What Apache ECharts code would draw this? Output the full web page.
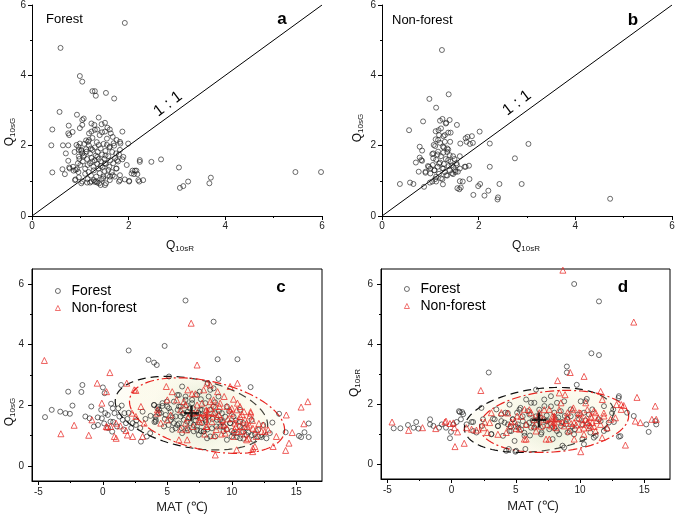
<!DOCTYPE html>
<html><head><meta charset="utf-8">
<script src="https://cdn.jsdelivr.net/npm/echarts@6/dist/echarts.min.js"></script>
<style>html,body{margin:0;padding:0;background:#fff}#c{width:675px;height:517px}</style>
</head><body><div id="c"></div>
<script>
// ---------- data ----------
// Panel a: Forest, [Q10sR, Q10sG]
const forestA = [[1.92,5.49],[0.59,4.78],[0.99,3.98],[1.04,3.82],[1.25,3.55],[1.30,3.55],[1.32,3.42],[1.53,3.50],[1.70,3.34],[0.57,2.96],[0.93,2.88],[0.42,2.46],[1.07,2.77],[1.38,2.80],[0.76,2.57],[0.40,2.01],[0.42,1.24],[0.64,2.01],[0.75,2.01],[0.70,1.78],[0.84,2.39],[0.77,2.30],[0.99,2.50],[1.04,2.59],[0.63,1.33],[0.68,1.19],[0.77,1.38],[0.85,1.40],[0.90,1.31],[0.90,1.04],[0.96,1.25],[1.04,0.98],[0.88,1.82],[0.99,2.06],[0.96,1.97],[1.02,1.88],[0.97,1.69],[1.06,1.69],[1.13,1.83],[1.18,2.16],[1.23,2.40],[1.29,2.59],[1.35,2.46],[1.44,2.61],[1.51,2.65],[1.56,2.51],[1.63,2.35],[1.87,2.40],[1.75,2.16],[1.83,2.06],[1.99,2.06],[1.87,1.61],[1.96,1.45],[2.01,0.98],[2.06,1.21],[2.13,1.29],[2.18,1.19],[2.22,0.98],[2.23,1.54],[2.23,1.59],[2.30,1.02],[2.47,1.54],[2.67,1.61],[3.04,1.38],[3.06,0.80],[3.13,0.85],[3.23,0.98],[3.67,0.93],[3.70,1.09],[5.45,1.25],[5.98,1.25],[1.80,0.98],[1.71,1.12],[1.51,0.88],[1.39,0.93],[1.33,0.98],[1.23,0.98],[1.14,0.95],[1.47,1.07],[1.61,1.12],
[1.04,2.73],[1.23,2.63],[1.51,2.40],[1.61,2.46],[1.67,2.25],[1.82,2.11],[0.75,2.35],[0.92,2.02],[0.97,1.88],[1.04,1.78],[1.16,2.11],[0.75,1.57],[0.78,1.35],[0.86,1.29],[0.93,1.33],[0.97,1.10],[0.89,1.02],[1.02,0.93],[1.20,0.95],[1.30,0.97],[1.42,0.88],[1.53,0.93],[1.61,1.02],[1.82,1.02],[1.92,1.04],[1.82,1.16],[1.67,1.16],[1.74,1.35],[1.58,1.31],[1.51,1.50],[1.76,1.59],[1.89,1.68],[1.74,1.78],[1.82,1.88],[1.61,1.97],[1.69,2.07],[2.08,1.29],[2.16,1.29],[2.11,1.19],[2.20,1.02],[2.01,1.00],
[1.05,1.55],[1.08,1.72],[1.10,1.35],[1.12,1.90],[1.14,1.62],[1.15,1.45],[1.17,1.25],[1.18,2.00],[1.20,1.78],[1.20,1.50],[1.22,1.15],[1.23,1.65],[1.25,1.88],[1.25,2.22],[1.27,1.40],[1.28,1.30],[1.30,1.58],[1.30,1.95],[1.32,1.72],[1.33,1.12],[1.34,2.10],[1.35,1.48],[1.36,1.82],[1.38,1.35],[1.38,1.62],[1.40,2.30],[1.40,1.22],[1.42,1.92],[1.43,1.55],[1.44,1.05],[1.45,1.75],[1.46,1.38],[1.48,2.05],[1.50,1.62],[1.50,1.28],[1.52,1.85],[1.53,1.48],[1.55,2.20],[1.56,1.15],[1.58,1.70],[1.60,1.40],[1.60,1.95],[1.62,1.58],[1.65,1.25],[1.66,1.82],[1.68,1.50],[1.70,2.00],[1.72,1.65],[1.75,1.35],[1.78,1.55],[1.80,1.75],[1.12,2.15],[1.15,1.05],[1.28,1.02],[1.35,0.95],[1.48,1.12],[1.00,1.45],[0.98,1.62],[1.02,1.85],[0.95,1.50],[1.08,2.05],[1.18,2.35],[1.30,2.45],[1.45,2.38],[1.55,2.02],[1.25,1.55],[1.35,1.68],[1.42,1.42],[1.52,1.72],[1.22,1.92],[1.38,2.02],[1.10,1.20]];

// Panel b: Non-forest, [Q10sR, Q10sG]
const nonForestB = [[1.24,4.72],[0.98,3.33],[1.38,3.46],[1.12,3.08],[0.56,2.44],[0.85,2.69],[1.20,2.71],[1.25,2.76],[1.40,2.73],[1.32,2.63],[1.55,2.59],[1.42,2.37],[1.37,2.37],[1.17,2.44],[1.22,2.49],[1.11,2.41],[1.27,2.27],[1.77,2.25],[1.73,2.21],[2.02,2.40],[1.88,2.08],[1.82,2.05],[1.62,2.06],[2.23,2.06],[3.03,2.05],[0.78,1.97],[0.83,1.86],[0.78,1.66],[0.83,1.57],[0.70,1.52],[0.76,1.26],[0.90,1.23],[0.97,1.40],[1.06,1.64],[1.04,1.76],[1.10,1.99],[1.16,2.16],[1.26,1.97],[1.30,2.11],[1.35,1.92],[1.40,1.73],[1.47,1.70],[1.61,1.70],[1.54,1.50],[1.61,1.35],[1.73,1.40],[1.80,1.43],[2.23,1.40],[2.75,1.64],[0.37,0.91],[0.58,0.95],[0.65,0.91],[0.87,0.83],[0.99,0.95],[1.12,0.98],[1.26,0.90],[1.47,1.19],[1.56,0.79],[1.61,0.99],[1.63,0.81],[1.81,1.05],[1.89,0.60],[1.99,0.85],[2.12,0.58],[2.20,0.72],[2.39,0.47],[2.43,0.91],[2.89,0.91],[4.72,0.49],
[1.33,2.65],[1.18,2.30],[1.30,2.30],[1.07,2.02],[1.20,2.08],[1.41,2.11],[1.11,2.18],[1.06,1.78],[1.16,1.83],[1.27,1.80],[1.37,1.89],[1.75,2.11],[1.86,2.27],[0.81,1.59],[0.95,1.42],[0.90,1.26],[1.00,1.21],[1.09,1.30],[1.18,1.49],[1.27,1.35],[1.37,1.59],[1.44,1.44],[1.51,1.30],[1.71,1.40],[1.12,1.12],[1.22,1.07],[1.33,1.16],[1.57,1.26],[1.04,0.98],[1.67,0.98],[1.60,0.76],[2.03,0.91],[2.40,0.53],
[1.05,1.45],[1.08,1.30],[1.12,1.60],[1.15,1.40],[1.18,1.20],[1.20,1.52],[1.22,1.70],[1.25,1.35],[1.28,1.48],[1.30,1.25],[1.32,1.62],[1.35,1.15],[1.38,1.42],[1.40,1.30],[1.42,1.55],[1.45,1.22],[1.48,1.38],[1.50,1.62],[1.10,1.05],[1.25,1.05],[1.35,1.82],[1.15,1.75],[1.28,1.95],[1.00,1.35],[1.52,1.25],[1.55,1.45]];

// Panel c: [MAT, Q10sG]
const forestC = [[-4.49,1.61],[-3.97,1.85],[-3.31,1.79],[-2.90,1.74],[-2.56,1.72],[-2.69,2.45],[-2.36,1.99],[-1.67,2.44],[-1.59,2.67],[-1.36,1.63],[-0.90,1.96],[-1.03,1.57],[-0.38,1.35],[-0.13,1.85],[0.00,2.59],[0.13,2.40],[-0.08,1.57],[0.18,1.74],[0.38,1.68],[0.64,2.05],[0.59,1.46],[0.72,1.13],[0.77,1.90],[0.90,1.74],[1.28,1.63],[1.41,2.67],[1.46,1.99],[1.54,1.52],[1.67,1.74],[1.79,1.41],[2.00,3.81],[2.31,1.41],[2.56,1.35],[2.95,0.80],[3.08,1.79],[3.41,0.97],[3.54,3.50],[3.67,1.08],[3.97,3.41],[4.18,3.33],[3.97,2.01],[4.10,1.63],[4.23,1.90],[4.36,1.74],[4.10,1.46],[4.62,1.98],[4.79,3.96],[4.95,2.12],[5.13,2.95],[4.87,1.68],[5.13,1.90],[5.26,1.52],[5.51,1.41],[5.64,1.24],[5.77,2.34],[5.90,1.96],[6.03,1.63],[6.15,2.62],[6.28,1.74],[6.41,5.46],[6.41,2.29],[6.54,1.46],[6.74,1.90],[6.92,2.18],[7.05,1.35],[7.31,1.63],[7.31,1.19],[7.51,2.45],[7.69,1.85],[7.82,1.13],[7.95,1.52],[8.13,2.73],[8.21,2.29],[8.33,0.97],[8.59,4.76],[8.59,2.56],[8.72,1.74],[8.90,3.52],[8.97,2.87],[9.10,1.52],[9.36,1.30],[9.62,0.86],[9.87,1.41],[10.13,1.08],[10.44,3.52],[10.64,1.46],[10.90,1.13],[11.46,2.60],[11.67,0.86],[12.05,0.97],[12.44,1.35],[12.69,0.91],[12.95,1.08],[13.15,1.43],[13.67,1.72],[14.18,1.11],[15.21,0.99],[15.38,0.95],[15.64,1.11],[15.97,1.40],[15.97,0.95],
[3.97,2.01],[4.36,1.85],[4.62,2.07],[5.00,1.96],[5.26,1.79],[5.51,2.12],[5.64,1.63],[5.90,2.34],[6.03,1.96],[6.28,1.52],[6.41,2.18],[6.59,1.79],[6.79,1.41],[6.92,2.07],[7.18,1.63],[7.31,2.34],[7.56,1.85],[7.69,1.41],[7.82,1.14],[7.95,2.07],[8.20,1.63],[8.33,2.51],[8.46,1.24],[8.59,1.96],[8.85,1.52],[8.97,2.29],[9.23,1.74],[9.36,1.14],[9.62,1.96],[9.87,1.41],[10.13,1.63],[10.38,1.08],[10.64,1.85],[10.90,1.41],[11.15,1.02],[11.54,1.52],[4.10,1.52],[4.74,1.30],[5.38,1.19],[5.77,1.35],[6.15,1.08],[6.54,1.24],[7.05,1.14],[7.44,1.02],[8.08,0.91],[8.72,0.97],[9.10,1.30],[10.00,0.97],[10.64,0.91],[11.54,1.02],[12.05,1.19],
[5.80,1.85],[6.20,1.72],[6.50,2.00],[6.70,1.60],[7.00,1.90],[7.20,1.50],[7.40,1.75],[7.60,2.20],[7.80,1.65],[8.00,1.45],[8.30,1.85],[8.50,1.55],[8.70,2.10],[9.00,1.80],[9.30,1.45],[9.50,1.62],[9.80,1.80],[10.30,1.50],[10.60,1.30],[11.00,1.25],[11.30,1.10],[4.50,1.75],[4.80,1.55],[5.10,1.35],[5.40,1.60],[5.90,1.40],[6.10,1.25],[6.60,1.18],[7.30,1.30],[7.60,1.15],[8.10,1.20],[8.80,1.30],[9.60,1.20],[10.00,1.15],[10.40,0.95],[10.90,0.90],[11.80,1.05],[12.30,0.95],[4.30,1.95],[4.00,1.45],[3.70,1.65],[3.30,1.55],[2.90,1.25],[2.60,1.50],[2.20,1.25],[1.90,1.55],[1.60,1.20],[1.10,1.30],[0.80,1.45],[0.40,1.25],[0.10,1.40],[-0.40,1.60],[-0.70,1.30],[1.20,1.90],[2.00,1.75]];

const nonForestC = [[-4.54,3.48],[-3.26,1.06],[-2.23,1.34],[-1.10,1.01],[-0.85,1.52],[-0.44,2.73],[-0.08,2.07],[0.28,2.45],[0.33,1.28],[0.54,3.08],[0.59,1.30],[1.03,0.91],[1.36,1.32],[1.79,1.17],[1.85,2.73],[2.26,1.74],[2.56,1.63],[2.56,2.49],[2.95,1.96],[3.08,0.97],[4.23,1.74],[4.49,1.41],[4.92,2.62],[5.00,1.52],[5.26,1.68],[6.03,1.21],[6.28,2.12],[6.41,1.41],[6.54,0.86],[6.85,4.71],[6.79,1.74],[6.92,2.38],[7.18,2.38],[7.31,3.33],[7.31,1.76],[7.51,1.46],[7.69,2.07],[7.95,1.68],[8.08,1.30],[8.33,2.67],[8.59,2.18],[8.72,1.96],[8.72,0.36],[8.85,1.63],[9.10,2.07],[9.23,1.35],[9.49,1.08],[9.62,1.96],[9.87,2.62],[10.00,1.74],[10.13,2.20],[10.26,1.41],[10.44,2.73],[10.51,1.13],[10.64,1.96],[10.77,1.30],[11.03,1.52],[11.15,0.86],[11.36,1.35],[11.46,1.74],[11.62,0.47],[11.79,0.64],[12.56,1.13],[12.82,1.19],[13.21,0.64],[13.46,0.97],[14.18,0.51],[14.23,1.68],[14.44,0.75],[14.69,1.10],[15.38,1.94],[15.59,1.39],[15.90,2.12],
[2.43,2.51],[5.00,2.18],[5.38,2.45],[5.72,2.18],[6.03,1.85],[6.41,2.01],[6.59,2.51],[7.05,1.74],[7.31,2.01],[7.44,1.52],[7.82,2.51],[8.03,1.85],[8.08,2.73],[8.33,2.12],[8.46,1.46],[8.59,1.74],[8.90,2.45],[9.05,1.96],[9.23,1.52],[9.41,2.29],[9.62,1.24],[9.87,1.85],[10.00,1.57],[10.13,0.97],[10.33,1.30],[10.44,2.07],[10.64,1.63],[10.77,1.14],[10.95,1.79],[11.15,1.41],[11.28,0.91],[11.46,1.79],[11.64,1.24],[11.90,0.97],[12.31,1.14],[12.44,1.35],[10.38,0.53],[11.64,0.58],[1.02,1.41],[0.26,1.30],[1.90,1.02],[0.89,0.97],[2.31,0.97],[3.20,1.41],[4.23,1.85],[5.90,0.86],[6.49,1.19],
[7.60,1.60],[8.00,1.30],[8.40,1.90],[8.80,1.20],[9.00,1.70],[9.40,1.35],[9.70,1.55],[10.00,1.90],[10.20,1.20],[10.50,1.50],[10.80,1.70],[11.00,1.05],[11.20,1.30],[11.60,1.50],[11.90,1.20],[9.20,1.05],[8.60,1.00],[7.90,1.05],[7.00,1.30],[6.60,1.60],[10.40,1.85],[11.40,1.65],[12.10,1.40]];

// Panel d: [MAT, Q10sR]
const forestD = [[-4.51,1.19],[-3.99,1.19],[-3.40,1.30],[-2.96,1.21],[-2.76,1.40],[-2.58,1.18],[-1.68,1.49],[-1.68,1.32],[-1.42,1.27],[-0.98,1.21],[-0.77,1.32],[-0.44,1.21],[-0.13,0.86],[-0.05,1.07],[0.13,1.32],[0.39,1.40],[0.57,1.76],[0.82,1.73],[0.72,1.49],[1.16,1.32],[1.55,1.40],[1.68,1.10],[1.93,1.05],[2.32,1.87],[2.37,1.27],[2.89,3.05],[3.09,0.99],[3.22,1.51],[3.48,1.82],[3.61,1.27],[3.87,1.43],[4.00,0.94],[4.18,1.71],[4.25,0.44],[4.38,1.32],[4.51,1.98],[4.64,1.10],[4.77,1.49],[4.90,0.77],[4.97,0.41],[5.10,1.71],[5.21,1.21],[5.36,1.87],[5.54,1.43],[5.67,0.94],[5.80,2.15],[6.06,1.65],[6.19,1.21],[6.44,2.04],[6.57,2.48],[6.70,1.49],[6.96,0.99],[7.22,1.93],[7.47,1.43],[7.73,2.26],[7.86,0.83],[7.99,1.71],[8.20,2.04],[8.51,1.27],[8.63,0.61],[8.81,1.60],[8.97,3.05],[8.97,3.25],[9.02,1.05],[9.28,1.82],[9.54,6.00],[9.59,1.16],[9.74,2.64],[9.92,1.49],[10.05,2.09],[10.18,0.83],[10.31,1.71],[10.52,2.17],[10.70,1.27],[10.88,3.69],[10.95,1.82],[11.21,0.94],[11.47,5.42],[11.47,3.63],[11.60,1.43],[11.86,1.93],[12.11,1.16],[12.58,1.82],[12.63,1.40],[13.02,2.26],[13.02,0.91],[13.66,1.71],[14.18,1.60],[15.15,1.32],[15.34,1.07],[15.85,1.43],[15.93,1.32],
[0.64,1.73],[0.90,1.66],[1.67,1.40],[2.44,1.49],[3.09,1.00],[3.35,1.49],[3.60,1.26],[3.86,1.65],[4.12,1.38],[4.37,1.70],[4.51,1.10],[4.76,1.49],[5.15,1.32],[5.28,1.81],[5.53,1.59],[5.66,1.04],[5.92,1.76],[6.05,1.38],[6.18,2.04],[6.44,1.21],[6.57,1.59],[6.82,1.81],[7.21,2.15],[7.34,1.43],[7.60,1.16],[7.73,1.92],[8.11,1.49],[8.37,0.99],[8.50,1.76],[8.76,2.09],[8.89,1.32],[9.27,1.59],[9.53,0.99],[10.17,1.32],[10.43,2.09],[10.69,1.65],[11.07,0.88],[11.46,1.49],[11.85,1.10],[12.23,1.38],[12.49,1.70],[13.00,2.20],[13.14,0.93],[4.45,0.50],[5.02,0.44],[5.74,0.50],[8.76,0.55],[10.30,0.66],
[5.0,1.25],[5.4,1.15],[5.8,1.30],[6.3,1.45],[6.6,1.30],[6.9,1.55],[7.1,1.25],[7.4,1.62],[7.7,1.35],[8.0,1.20],[8.3,1.55],[8.6,1.40],[9.0,1.50],[9.4,1.25],[9.8,1.65],[10.4,1.45],[10.8,1.05],[4.6,1.25],[6.1,0.95],[7.0,1.05],[8.2,1.10],[9.2,1.10]];

const nonForestD = [[-4.64,1.40],[-3.35,1.12],[-2.27,1.21],[-1.24,1.18],[-0.52,1.40],[-0.13,1.35],[0.21,1.21],[0.26,0.58],[0.46,1.07],[0.98,0.69],[1.55,1.16],[2.27,2.45],[2.58,1.40],[2.78,1.05],[3.09,1.71],[3.87,1.71],[4.25,1.05],[4.51,1.27],[4.90,1.43],[5.10,1.60],[5.28,1.16],[5.67,1.82],[5.80,0.83],[6.19,1.71],[6.44,1.27],[6.83,1.71],[7.16,1.49],[7.35,0.83],[7.60,1.82],[7.78,1.27],[7.99,1.60],[8.25,2.78],[8.38,2.37],[8.51,2.04],[8.66,6.46],[8.76,1.27],[9.02,1.71],[9.23,3.05],[9.48,1.87],[9.54,0.83],[9.92,1.71],[10.05,0.41],[10.31,2.92],[10.44,2.04],[10.57,1.38],[10.82,1.27],[11.21,1.71],[11.60,2.42],[11.73,2.15],[11.86,1.60],[12.37,1.49],[12.84,1.98],[13.20,1.82],[13.40,1.95],[13.53,0.63],[14.18,4.73],[14.30,1.43],[14.43,2.22],[14.69,1.38],[15.59,1.49],[15.85,1.93],[15.93,1.49],
[-0.44,1.43],[0.13,1.37],[1.16,1.21],[1.93,1.13],[2.50,1.21],[2.96,1.38],[3.60,0.99],[4.37,1.70],[4.64,1.40],[5.02,1.18],[5.41,1.59],[5.66,0.83],[5.80,1.32],[6.05,1.81],[6.44,1.49],[6.57,1.10],[6.82,1.59],[6.96,1.26],[7.21,1.81],[7.47,1.32],[7.60,0.83],[7.85,1.59],[8.11,1.21],[8.37,1.81],[8.63,1.38],[8.83,2.31],[9.01,1.59],[9.14,1.10],[9.40,1.81],[9.53,1.38],[9.78,1.54],[9.92,1.16],[10.05,1.70],[10.17,1.32],[10.30,0.99],[10.43,1.49],[10.56,1.81],[10.69,1.21],[10.82,1.59],[10.95,1.38],[11.07,1.76],[11.20,1.10],[11.41,1.54],[11.59,1.32],[11.72,0.88],[11.85,1.70],[12.10,1.21],[13.21,1.98],[12.75,1.54],
[9.7,1.30],[10.1,1.50],[10.3,1.20],[10.6,1.40],[10.9,1.55],[11.1,1.25],[11.3,1.45],[8.9,1.45],[9.3,1.35],[8.0,1.40]];

// Confidence ellipses: [centreX, centreY, majorDX, majorDY, minorDX, minorDY, kind(0 forest,1 non-forest)]
const ellipsesC = [[6.87,1.74,5.90,-0.47,0.40,1.12,0],[8.08,1.66,6.00,-0.55,0.45,1.12,1]];
const ellipsesD = [[6.80,1.47,5.80,0.33,-0.30,1.03,0],[7.98,1.42,5.80,0.17,0.05,1.02,1]];

// Axis ticks
const ticksAB = [0, 6, 2];           // min, max, interval
const majorMAT = [-5, 0, 5, 10, 15];
const minorMAT = [-2.5, 2.5, 7.5, 12.5];
const majorQ = [0, 2, 4, 6];
const minorQ = [1, 3, 5];
const oneToOne = [[0, 0], [6, 6]];

// ---------- chart ----------
const FONT = 'Arial, "Liberation Sans", Helvetica, sans-serif';
const chart = echarts.init(document.getElementById('c'), null, {renderer: 'canvas'});

const grids = [
  {left: 32, top: 5, width: 290, height: 211, outerBoundsMode: 'none'},
  {left: 382, top: 5, width: 290, height: 211, outerBoundsMode: 'none'},
  {left: 32, top: 269, width: 290, height: 212, show: true, borderColor: '#000', borderWidth: 1, backgroundColor: 'transparent', outerBoundsMode: 'none'},
  {left: 381, top: 269, width: 289, height: 210, show: true, borderColor: '#000', borderWidth: 1, backgroundColor: 'transparent', outerBoundsMode: 'none'}
];

function baseAxis(extra) {
  return Object.assign({
    type: 'value', scale: false,
    splitLine: {show: false},
    axisLine: {show: true, onZero: false, lineStyle: {color: '#000', width: 1}},
    axisTick: {show: true, inside: false, length: 4, lineStyle: {color: '#000', width: 1}},
    axisLabel: {color: '#222', fontSize: 10, fontFamily: FONT},
  }, extra);
}
function abAxis(gi, margin) {
  return baseAxis({
    gridIndex: gi, min: ticksAB[0], max: ticksAB[1], interval: ticksAB[2],
    minorTick: {show: true, splitNumber: 2, length: 2, lineStyle: {color: '#000'}},
    axisLabel: {color: '#222', fontSize: 10, fontFamily: FONT, margin: margin}
  });
}
function matAxis(gi) {
  return baseAxis({
    gridIndex: gi, min: -5.5, max: 17, position: 'bottom',
    axisTick: {show: true, inside: false, length: 4, customValues: majorMAT, lineStyle: {color: '#000'}},
    axisLabel: {color: '#222', fontSize: 10, fontFamily: FONT, margin: 6, customValues: majorMAT}
  });
}
function matMinor(gi) {
  return baseAxis({
    gridIndex: gi, min: -5.5, max: 17, position: 'bottom',
    axisLine: {show: false, onZero: false},
    axisTick: {show: true, inside: false, length: 2, customValues: minorMAT, lineStyle: {color: '#000'}},
    axisLabel: {show: false}
  });
}
function qAxis(gi) {
  return baseAxis({
    gridIndex: gi, min: -0.5, max: 6.5, position: 'left',
    axisTick: {show: true, inside: false, length: 4, customValues: majorQ, lineStyle: {color: '#000'}},
    axisLabel: {color: '#222', fontSize: 10, fontFamily: FONT, margin: 8, customValues: majorQ}
  });
}
function qMinor(gi) {
  return baseAxis({
    gridIndex: gi, min: -0.5, max: 6.5, position: 'left',
    axisLine: {show: false, onZero: false},
    axisTick: {show: true, inside: false, length: 2, customValues: minorQ, lineStyle: {color: '#000'}},
    axisLabel: {show: false}
  });
}

const circleStyle = {color: 'rgba(255,255,255,0)', borderColor: '#1a1a1a', borderWidth: 0.8};
const triStyle = {color: 'rgba(255,255,255,0)', borderColor: '#e8231f', borderWidth: 0.9};

function ellipseFill() {
  return new echarts.graphic.RadialGradient(0.5, 0.5, 0.55, [
    {offset: 0, color: 'rgba(200,215,168,0.30)'},
    {offset: 0.6, color: 'rgba(222,228,190,0.25)'},
    {offset: 1, color: 'rgba(248,244,210,0.22)'}
  ]);
}
function renderEllipse(params, api) {
  const cx = api.value(0), cy = api.value(1), ax = api.value(2), ay = api.value(3),
        bx = api.value(4), by = api.value(5), kind = api.value(6);
  const pts = [];
  const N = 120;
  for (let i = 0; i < N; i++) {
    const t = i / N * 2 * Math.PI;
    pts.push(api.coord([cx + ax * Math.cos(t) + bx * Math.sin(t), cy + ay * Math.cos(t) + by * Math.sin(t)]));
  }
  return {
    type: 'polygon',
    shape: {points: pts},
    style: {
      fill: ellipseFill(),
      stroke: kind === 0 ? '#111' : '#e8231f',
      lineWidth: 1.2,
      lineDash: kind === 0 ? [8, 5] : [9, 3, 2, 3]
    }
  };
}
const plusPath = 'path://M4.2,0H5.8V4.2H10V5.8H5.8V10H4.2V5.8H0V4.2H4.2Z';

function ellipseSeries(idx, data) {
  return [
    {type: 'custom', xAxisIndex: idx, yAxisIndex: idx, data: data, encode: {x: 0, y: 1},
     renderItem: renderEllipse, z: 1, silent: true},
    {type: 'scatter', name: 'centreF' + idx, xAxisIndex: idx, yAxisIndex: idx, symbol: plusPath, symbolSize: 15, z: 5,
     data: data.filter(e => e[6] === 0).map(e => [e[0], e[1]]), itemStyle: {color: '#000'}, silent: true},
    {type: 'scatter', name: 'centreN' + idx, xAxisIndex: idx, yAxisIndex: idx, symbol: plusPath, symbolSize: 15, z: 5,
     data: data.filter(e => e[6] === 1).map(e => [e[0], e[1]]), itemStyle: {color: '#e8231f'}, silent: true}
  ];
}

function rich(main, sub) {
  return {
    text: '{q|' + main + '}{s|' + sub + '}',
    rich: {
      q: {font: '12px ' + FONT, fill: '#111'},
      s: {font: '8px ' + FONT, fill: '#111', padding: [5, 0, 0, 0]}
    },
    align: 'center', verticalAlign: 'middle'
  };
}
const ROT = 37 * Math.PI / 180;
const graphics = [
  {type: 'text', x: 46, y: 19, style: {text: 'Forest', font: '13px ' + FONT, fill: '#000', verticalAlign: 'middle'}},
  {type: 'text', x: 392, y: 20, style: {text: 'Non-forest', font: '13px ' + FONT, fill: '#000', verticalAlign: 'middle'}},
  {type: 'text', x: 282, y: 19, style: {text: 'a', font: 'bold 17px ' + FONT, fill: '#000', align: 'center', verticalAlign: 'middle'}},
  {type: 'text', x: 633, y: 20, style: {text: 'b', font: 'bold 17px ' + FONT, fill: '#000', align: 'center', verticalAlign: 'middle'}},
  {type: 'text', x: 281, y: 287, style: {text: 'c', font: 'bold 17px ' + FONT, fill: '#000', align: 'center', verticalAlign: 'middle'}},
  {type: 'text', x: 623, y: 287, style: {text: 'd', font: 'bold 17px ' + FONT, fill: '#000', align: 'center', verticalAlign: 'middle'}},
  {type: 'text', x: 168, y: 104, rotation: ROT, style: {text: '1 : 1', font: '16px ' + FONT, fill: '#000', align: 'center', verticalAlign: 'middle'}},
  {type: 'text', x: 517, y: 103, rotation: ROT, style: {text: '1 : 1', font: '16px ' + FONT, fill: '#000', align: 'center', verticalAlign: 'middle'}},
  {type: 'text', x: 10, y: 132, rotation: Math.PI / 2, style: rich('Q', '10sG')},
  {type: 'text', x: 180, y: 246, style: rich('Q', '10sR')},
  {type: 'text', x: 358, y: 128, rotation: Math.PI / 2, style: rich('Q', '10sG')},
  {type: 'text', x: 526, y: 246, style: rich('Q', '10sR')},
  {type: 'text', x: 10, y: 412, rotation: Math.PI / 2, style: rich('Q', '10sG')},
  {type: 'text', x: 355, y: 383, rotation: Math.PI / 2, style: rich('Q', '10sR')},
  {type: 'text', x: 182, y: 507, style: {text: 'MAT (℃)', font: '13px ' + FONT, fill: '#222', align: 'center', verticalAlign: 'middle'}},
  {type: 'text', x: 533, y: 506, style: {text: 'MAT (℃)', font: '13px ' + FONT, fill: '#222', align: 'center', verticalAlign: 'middle'}}
];

const legendBase = {
  data: ['Forest', 'Non-forest'], orient: 'vertical', selectedMode: false,
  itemWidth: 5, itemHeight: 5, itemGap: 3,
  itemStyle: {borderWidth: 0.8},
  textStyle: {fontSize: 14, fontFamily: FONT, color: '#000', padding: [0, 0, 0, 6]}
};

const option = {
  backgroundColor: '#fff',
  animation: false,
  grid: grids,
  xAxis: [abAxis(0, 5), abAxis(1, 5), matAxis(2), matAxis(3), matMinor(2), matMinor(3)],
  yAxis: [abAxis(0, 6), abAxis(1, 6), qAxis(2), qAxis(3), qMinor(2), qMinor(3)],
  legend: [
    Object.assign({left: 50, top: 279}, legendBase),
    Object.assign({left: 399, top: 277}, legendBase)
  ],
  graphic: graphics,
  series: [
    {type: 'line', xAxisIndex: 0, yAxisIndex: 0, data: oneToOne, showSymbol: false, lineStyle: {color: '#000', width: 1}, z: 1, silent: true},
    {type: 'scatter', name: 'ForestA', xAxisIndex: 0, yAxisIndex: 0, data: forestA, symbol: 'circle', symbolSize: 5, itemStyle: circleStyle, z: 2},
    {type: 'line', xAxisIndex: 1, yAxisIndex: 1, data: oneToOne, showSymbol: false, lineStyle: {color: '#000', width: 1}, z: 1, silent: true},
    {type: 'scatter', name: 'NonForestB', xAxisIndex: 1, yAxisIndex: 1, data: nonForestB, symbol: 'circle', symbolSize: 5, itemStyle: circleStyle, z: 2},
    ...ellipseSeries(2, ellipsesC),
    {type: 'scatter', name: 'Forest', xAxisIndex: 2, yAxisIndex: 2, data: forestC, symbol: 'circle', symbolSize: 5, itemStyle: circleStyle, z: 3},
    {type: 'scatter', name: 'Non-forest', xAxisIndex: 2, yAxisIndex: 2, data: nonForestC, symbol: 'triangle', symbolSize: 6, itemStyle: triStyle, z: 4},
    ...ellipseSeries(3, ellipsesD),
    {type: 'scatter', name: 'Forest', xAxisIndex: 3, yAxisIndex: 3, data: forestD, symbol: 'circle', symbolSize: 5, itemStyle: circleStyle, z: 3},
    {type: 'scatter', name: 'Non-forest', xAxisIndex: 3, yAxisIndex: 3, data: nonForestD, symbol: 'triangle', symbolSize: 6, itemStyle: triStyle, z: 4}
  ]
};
chart.setOption(option);
</script>
</body></html>
